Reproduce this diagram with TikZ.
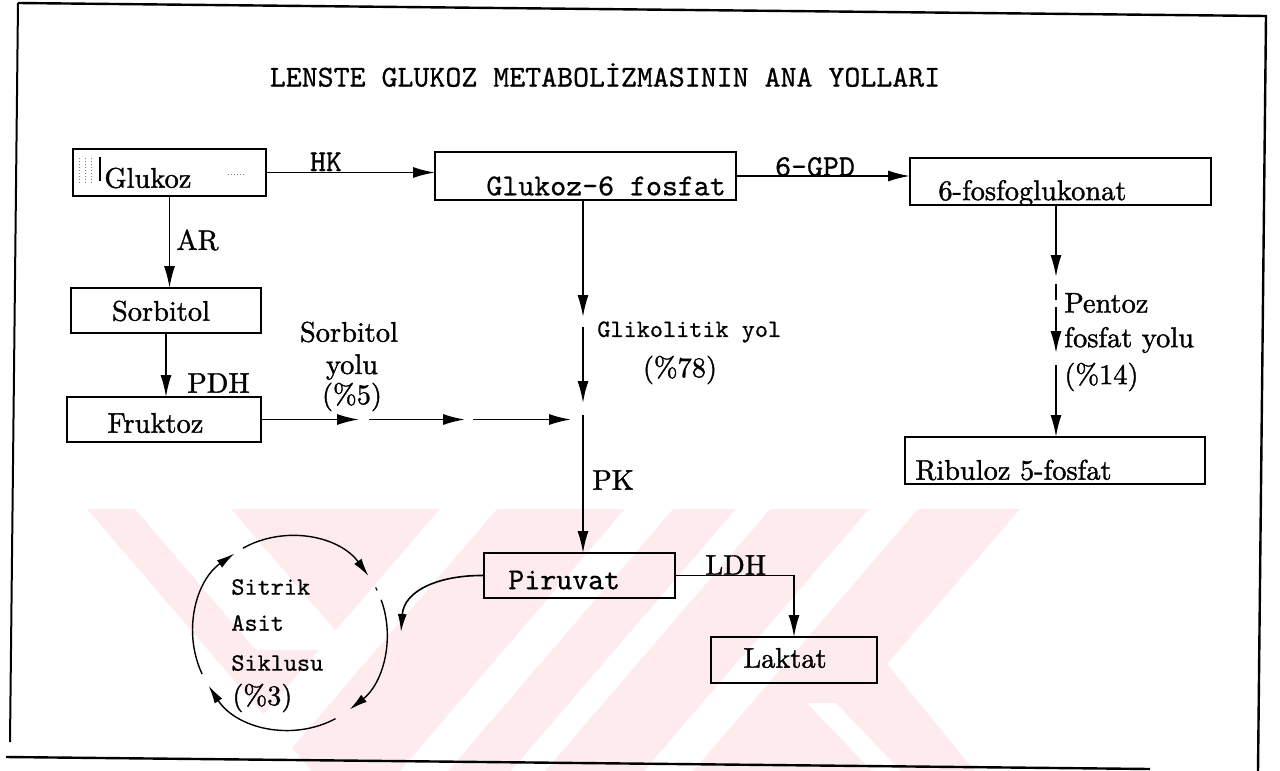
\documentclass[tikz,border=0pt]{standalone}
\usepackage{fontspec}
\usetikzlibrary{arrows.meta}
\definecolor{wm}{RGB}{253,235,238}
\newfontfamily\serbold[Extension=.otf, FakeBold=1.3]{lmroman10-regular}
\newfontfamily\monobold[Extension=.otf, FakeBold=0.7]{lmmono10-regular}
\newcommand\mymono{\fontsize{15.2}{18}\selectfont\monobold}
\newcommand\mysmono{\fontsize{12.5}{15}\selectfont\monobold}
\newcommand\myser{\fontsize{14.2}{17}\selectfont\serbold}
\tikzset{
  bx/.style={draw, line width=1.25pt, inner sep=0pt, outer sep=0pt},
  ar/.style={line width=0.9pt, -{Latex[length=11pt,width=5.5pt]}},
  ln/.style={line width=0.9pt},
  cyc/.style={line width=0.7pt, -{Latex[length=9pt,width=4.5pt]}},
  lab/.style={inner sep=0pt, anchor=west},
  labc/.style={inner sep=0pt, anchor=center},
  frame/.style={line width=1.2pt}
}
\begin{document}
\begin{tikzpicture}[x=0.5pt,y=-0.5pt]
\useasboundingbox (0,0) rectangle (1280,771);
% watermark
\fill[wm] (87,509) -- (1020,509) -- (887,664) -- (975,771) -- (312,771) -- cycle;
\fill[white] (135,509) -- (231,509) -- (352,650) -- (256,650) -- cycle;
\fill[white] (440,509) -- (497,509) -- (272,771) -- (215,771) -- cycle;
\fill[white] (625,509) -- (673,509) -- (448,771) -- (400,771) -- cycle;
\fill[white] (736,509) -- (770,509) -- (545,771) -- (511,771) -- cycle;
\fill[white] (869,509) -- (918,509) -- (693,771) -- (644,771) -- cycle;
\fill[white] (807,703) -- (836,703) -- (901,771) -- (872,771) -- cycle;
% frame
\draw[frame] (18,3) -- (1266,16) -- (1258,771);
\draw[line width=1pt] (18,3) -- (10,742);
\draw[frame] (6,757) -- (1150,769);
% title
\node[labc] (title) at (605,75) {\mymono LENSTE GLUKOZ METABOL\.IZMASININ ANA YOLLARI};
% boxes
\node[bx, minimum width=96.5pt, minimum height=23.5pt] (glu) at (169.5,172.5) {};
\node[bx, minimum width=150.5pt, minimum height=24pt] (g6p) at (585.5,176) {};
\node[bx, minimum width=150.5pt, minimum height=23.5pt] (fg) at (1060.5,181.5) {};
\node[bx, minimum width=95pt, minimum height=22.5pt] (sor) at (166,310.5) {};
\node[bx, minimum width=97pt, minimum height=22.5pt] (fru) at (164,419.5) {};
\node[bx, minimum width=150pt, minimum height=23.5pt] (rib) at (1055,460.5) {};
\node[bx, minimum width=95.5pt, minimum height=22.5pt] (pir) at (579.5,575.5) {};
\node[bx, minimum width=83pt, minimum height=23pt] (lak) at (794,660) {};
% box texts
\node[lab] (tglu) at (104,178) {\myser Glukoz};
\node[lab] (tg6p) at (486,186) {\mymono Glukoz-6 fosfat};
\node[lab] (tfg) at (938,193) {\myser 6-fosfoglukonat};
\node[labc] (tsor) at (161,311) {\myser Sorbitol};
\node[lab] (tfru) at (107,423) {\myser Fruktoz};
\node[lab] (trib) at (915,470) {\myser Ribuloz 5-fosfat};
\node[lab] (tpir) at (508,580) {\mymono Piruvat};
\node[lab] (tlak) at (743,658) {\myser Laktat};
% scan marks in Glukoz box
\draw[line width=0.5pt, gray, densely dotted] (79,158) -- (79,184) (85,158) -- (85,184) (91,158) -- (91,184);
\draw[line width=0.6pt] (100,157) -- (100,181);
\draw[line width=0.5pt, gray, densely dotted] (228,174) -- (246,174);
% labels
\node[inner sep=0pt, anchor=base] (lhk) at (326,171) {\mymono HK};
\node[inner sep=0pt, anchor=base] (lgpd) at (815,176) {\mymono 6-GPD};
\node[lab] (lar) at (176,240) {\myser AR};
\node[lab] (lpdh) at (187,383) {\myser PDH};
\node[lab] (lpk) at (592,480) {\myser PK};
\node[lab] (lldh) at (705,565) {\myser LDH};
\node[labc] (ls1) at (349,332) {\myser Sorbitol};
\node[labc] (ls2) at (352,367) {\myser yolu};
\node[labc] (ls3) at (352,397) {\myser (\%5)};
\node[lab] (lg1) at (597,332) {\mysmono Glikolitik yol};
\node[labc] (lg2) at (680,370) {\myser (\%78)};
\node[lab] (lp1) at (1064,303) {\myser Pentoz};
\node[lab] (lp2) at (1064,340) {\myser fosfat yolu};
\node[lab] (lp3) at (1064,377) {\myser (\%14)};
\node[lab] (lc1) at (231,587) {\mysmono Sitrik};
\node[lab] (lc2) at (231,623) {\mysmono Asit};
\node[lab] (lc3) at (231,663) {\mysmono Siklusu};
\node[lab] (lc4) at (232,698) {\myser (\%3)};
% connectors
\draw[ar] (glu.east) -- (glu.east -| g6p.west);
\draw[ar] (g6p.east) -- (g6p.east -| fg.west);
\draw[ar] (glu.south) -- (glu.south |- sor.north);
\draw[ar] (sor.south) -- (sor.south |- fru.north);
% sorbitol dashed path
\coordinate (d1) at (359,420);
\coordinate (d2a) at (369,420);
\coordinate (d2) at (465,420);
\coordinate (d3a) at (473,420);
\coordinate (d3) at (571,420);
\draw[ar] (fru.east) -- (fru.east -| d1);
\draw[ar] (d2a |- fru.east) -- (d2 |- fru.east);
\draw[ar] (d3a |- fru.east) -- (d3 |- fru.east);
% glycolytic path
\coordinate (g1) at (583,317);
\coordinate (g2a) at (583,327);
\coordinate (g2) at (583,403);
\coordinate (g3a) at (583,415);
\draw[ar] (g6p.south -| g1) -- (g1);
\draw[ar] (g2a) -- (g2);
\draw[ar] (g3a) -- (g3a |- pir.north);
% pentose path
\coordinate (p1) at (1056,277);
\coordinate (p2a) at (1056,284);
\coordinate (p2) at (1056,300);
\coordinate (p3a) at (1056,307);
\coordinate (p3) at (1056,353);
\coordinate (p4a) at (1056,365);
\draw[ar] (fg.south -| p1) -- (p1);
\draw[ln] (p2a) -- (p2);
\draw[ar] (p3a) -- (p3);
\draw[ar] (p4a) -- (p4a |- rib.north);
% piruvat to laktat
\draw[ar] (pir.east) -| (lak.north);
% piruvat to cycle
\coordinate (cc) at (401,632);
\draw[line width=0.8pt, -{Latex[length=9pt,width=4.5pt]}] (pir.west) .. controls (440,575) and (404,590) .. (cc);
% citric acid cycle
\coordinate (cen) at (290,633);
\draw[cyc] ({290+97*cos(205)},{633-97*sin(205)}) arc[start angle=-205, end angle=-125, radius=97];
\draw[cyc] ({290+97*cos(119)},{633-97*sin(119)}) arc[start angle=-119, end angle=-36, radius=97];
\draw[cyc] ({290+97*cos(20)},{633-97*sin(20)}) arc[start angle=-20, end angle=52, radius=97];
\draw[cyc] ({290+97*cos(-62)},{633-97*sin(-62)}) arc[start angle=62, end angle=147, radius=97];
\draw[line width=0.6pt] ({290+97*cos(28)},{633-97*sin(28)}) -- ({290+97*cos(26)},{633-97*sin(26)});
\end{tikzpicture}
\end{document}
